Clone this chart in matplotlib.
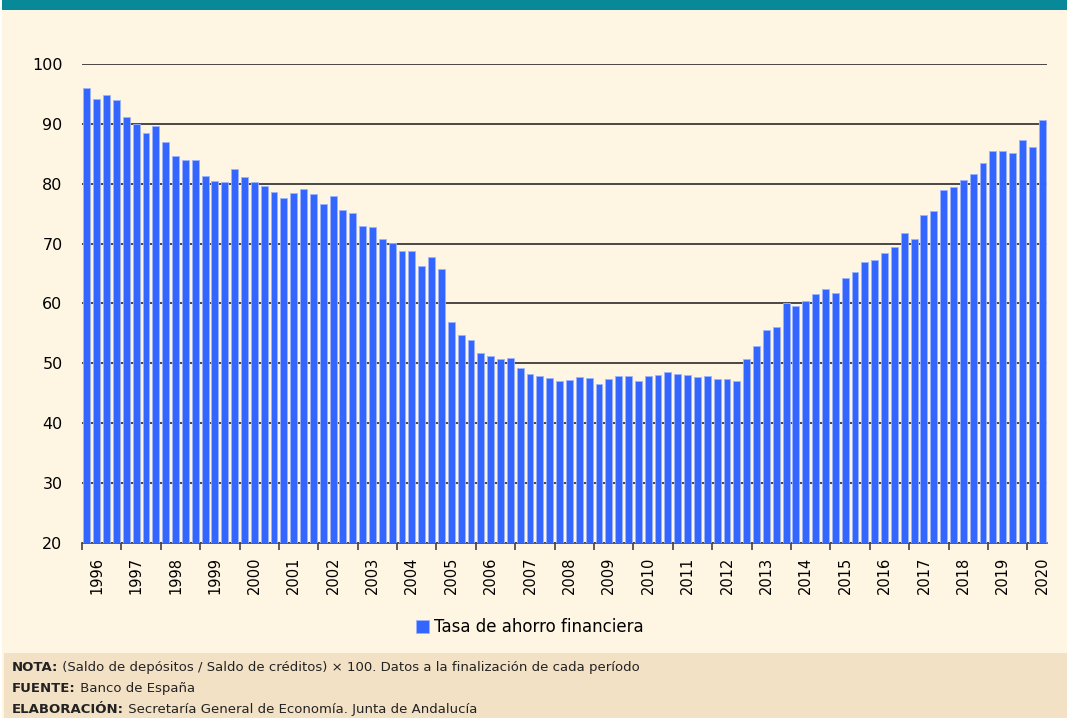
import numpy as np
import matplotlib.pyplot as plt
from matplotlib.patches import Rectangle

# quarterly values, 1996Q1 .. 2020Q2
years = [str(y) for y in range(1996, 2021)]
tasa = [
    96.0, 94.2, 94.9, 94.0,   # 1996
    91.1, 89.9, 88.4, 89.6,   # 1997
    87.0, 84.6, 83.9, 83.9,   # 1998
    81.3, 80.5, 80.3, 82.4,   # 1999
    81.1, 80.3, 79.7, 78.6,   # 2000
    77.7, 78.4, 79.1, 78.3,   # 2001
    76.7, 78.0, 75.6, 75.1,   # 2002
    73.0, 72.7, 70.7, 70.1,   # 2003
    68.7, 68.7, 66.3, 67.8,   # 2004
    65.8, 56.9, 54.8, 53.9,   # 2005
    51.7, 51.3, 50.8, 50.9,   # 2006
    49.2, 48.2, 47.9, 47.5,   # 2007
    47.0, 47.2, 47.7, 47.5,   # 2008
    46.6, 47.4, 47.9, 47.9,   # 2009
    47.0, 47.9, 48.1, 48.6,   # 2010
    48.2, 48.1, 47.7, 47.9,   # 2011
    47.4, 47.4, 47.0, 50.8,   # 2012
    52.9, 55.5, 56.0, 60.0,   # 2013
    59.6, 60.5, 61.6, 62.4,   # 2014
    61.8, 64.2, 65.3, 66.9,   # 2015
    67.3, 68.5, 69.4, 71.7,   # 2016
    70.8, 74.8, 75.4, 79.0,   # 2017
    79.4, 80.6, 81.7, 83.5,   # 2018
    85.5, 85.5, 85.1, 87.3,   # 2019
    86.1, 90.6,               # 2020
]
serie = "Tasa de ahorro financiera"
notas = [
    ("NOTA:", " (Saldo de depósitos / Saldo de créditos) \u00d7 100. Datos a la finalización de cada período"),
    ("FUENTE:", " Banco de España"),
    ("ELABORACIÓN:", " Secretaría General de Economía. Junta de Andalucía"),
]

cream = "#FEF6E3"
blue = "#3366FF"

fig = plt.figure(figsize=(10.67, 7.18), dpi=100, facecolor="white")
fig.patches.append(Rectangle((0.002, 0), 0.998, 1, transform=fig.transFigure,
                             facecolor=cream, edgecolor="none", zorder=-3))
fig.patches.append(Rectangle((0.002, 1 - 10 / 718), 0.998, 10 / 718, transform=fig.transFigure,
                             facecolor="#07899A", edgecolor="none", zorder=-2))
fig.patches.append(Rectangle((0.004, 0), 0.996, 65 / 718, transform=fig.transFigure,
                             facecolor="#F3E1C6", edgecolor="none", zorder=-2))

ax = fig.add_axes([82 / 1067, 1 - 543 / 718, 965 / 1067, 479 / 718])
ax.set_facecolor("none")

x = np.arange(len(tasa))
ax.bar(x, tasa, width=0.7, color=blue, edgecolor="#9DB5FF", linewidth=0.6,
       label=serie, zorder=3)

ax.set_xlim(-0.5, len(tasa) - 0.5)
ax.set_ylim(20, 100)
ax.set_yticks(range(20, 101, 10))
ax.yaxis.grid(True, color="#2a2a2a", linewidth=1.2, zorder=1)
ax.set_axisbelow(True)
ax.tick_params(axis="y", length=0, pad=14, labelsize=11.5)

# year boundaries as major ticks, labels as minor ticks
ax.set_xticks(np.arange(0, len(tasa), 4) - 0.5)
ax.set_xticklabels([])
ax.set_xticks(np.arange(len(years)) * 4 + 1, minor=True)
ax.set_xticklabels(years, minor=True, rotation=90, fontsize=10.5)
ax.tick_params(axis="x", which="major", length=5, width=1.2, color="#444444")
ax.tick_params(axis="x", which="minor", length=0, pad=10)

for s in ["top", "right", "left"]:
    ax.spines[s].set_visible(False)
ax.spines["bottom"].set_color("#444444")
ax.spines["bottom"].set_linewidth(1.2)

fig.legend(loc="center", bbox_to_anchor=(530 / 1067, 1 - 627 / 718), frameon=False,
           fontsize=12, handlelength=0.8, handleheight=0.8, handletextpad=0.3)

for i, (k, v) in enumerate(notas):
    yy = 1 - (671 + i * 21) / 718
    t = fig.text(12 / 1067, yy, k, fontsize=9.5, fontweight="bold",
                 va="baseline", color="#222222")
    fig.canvas.draw()
    bb = t.get_window_extent()
    fig.text(bb.x1 / fig.bbox.width, yy, v, fontsize=9.5,
             va="baseline", color="#222222")

fig.savefig("out.png", dpi=100, facecolor=fig.get_facecolor())
